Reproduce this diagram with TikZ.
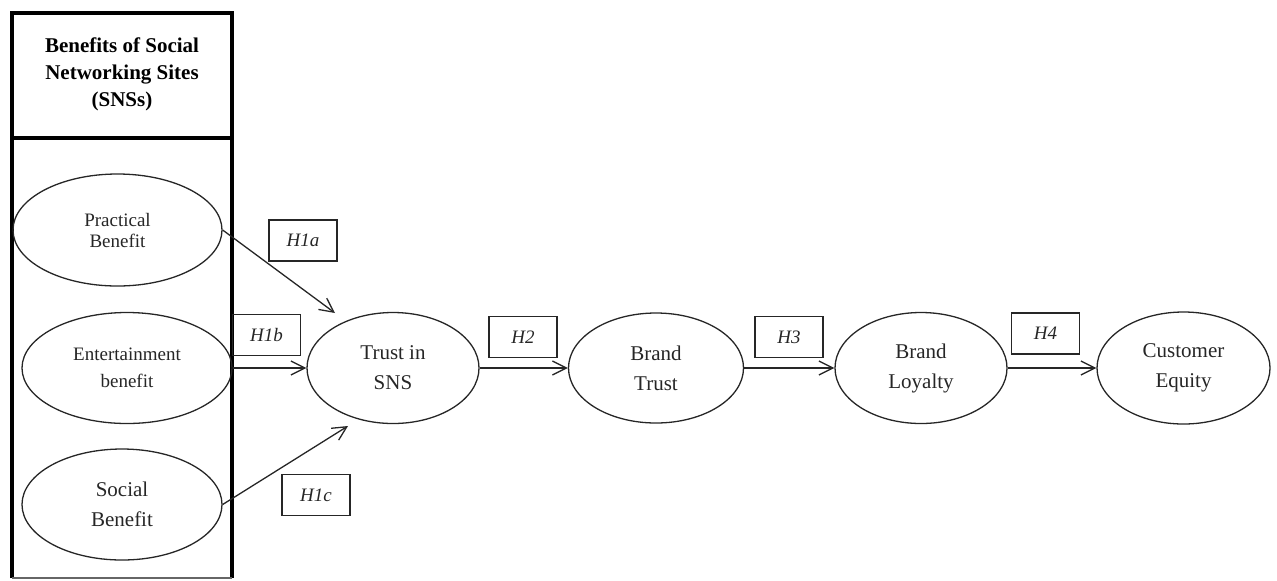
\documentclass[tikz,border=0pt]{standalone}
\usepackage{fontspec}
\setmainfont{Liberation Serif}
\usetikzlibrary{shapes.geometric, arrows.meta}
\tikzset{
  construct/.style={ellipse, draw=black!85, line width=0.65pt, inner sep=0pt, align=center,
    text=black!85, font=\fontsize{10.5}{15}\selectfont},
  hyp/.style={rectangle, draw=black!85, line width=0.6pt, inner sep=0pt, minimum width=34pt,
    minimum height=20.5pt, text=black!85, font=\itshape\fontsize{9.5}{11}\selectfont},
  link/.style={draw=black!85, line width=0.65pt, -{Straight Barb[length=7pt,width=7pt]}}
}

\begin{document}
\begin{tikzpicture}[x=0.5pt, y=-0.5pt]
    \useasboundingbox (0,0) rectangle (1277,580);

    % frame of the SNS benefits
    \draw[line width=1.75pt] (12,578) -- (12,13) -- (232,13) -- (232,578);
    \draw[line width=1.75pt] (12,138) -- (232,138);
    \draw[line width=0.6pt, black!60] (12,578) -- (232,578);
    \node[align=center, inner sep=0pt, font=\bfseries\fontsize{10.5}{13.5}\selectfont] (title) at (122,74)
      {Benefits of Social\\Networking Sites\\(SNSs)};

    \node[construct, minimum width=104.5pt, minimum height=56pt, font=\fontsize{9.5}{10.5}\selectfont] (prac) at (117.5,230) {Practical\\Benefit};
    \node[construct, minimum width=105pt, minimum height=55.5pt, font=\fontsize{9.5}{13.5}\selectfont] (ent) at (127,368) {Entertainment\\benefit};
    \node[construct, minimum width=100pt, minimum height=55.5pt] (soc) at (122,504.5) {Social\\Benefit};

    \node[construct, minimum width=86pt, minimum height=55.5pt] (tsns) at (393,368) {Trust in\\SNS};
    \node[construct, minimum width=87.5pt, minimum height=55pt] (btrust) at (656,368) {Brand\\Trust};
    \node[construct, minimum width=86pt, minimum height=55.5pt] (bloy) at (921,368) {Brand\\Loyalty};
    \node[construct, minimum width=86.5pt, minimum height=56pt] (ceq) at (1183.5,368) {Customer\\Equity};

    \node[hyp] (h1a) at (303,240.5) {H1a};
    \node[hyp] (h1b) at (266.5,335) {H1b};
    \node[hyp] (h1c) at (316,495) {H1c};
    \node[hyp] (h2) at (523,337) {H2};
    \node[hyp] (h3) at (789,337) {H3};
    \node[hyp] (h4) at (1045.5,333.5) {H4};

    \coordinate (tipa) at (335,313);
    \coordinate (tipc) at (348,426);

    \draw[link] (prac.east) -- (tipa);
    \draw[link] (ent.east) -- (tsns.west);
    \draw[link] (soc.east) -- (tipc);
    \foreach \from/\to in {tsns/btrust, btrust/bloy, bloy/ceq}
      \draw[link] (\from.east) -- (\to.west);
  \end{tikzpicture}
\end{document}
